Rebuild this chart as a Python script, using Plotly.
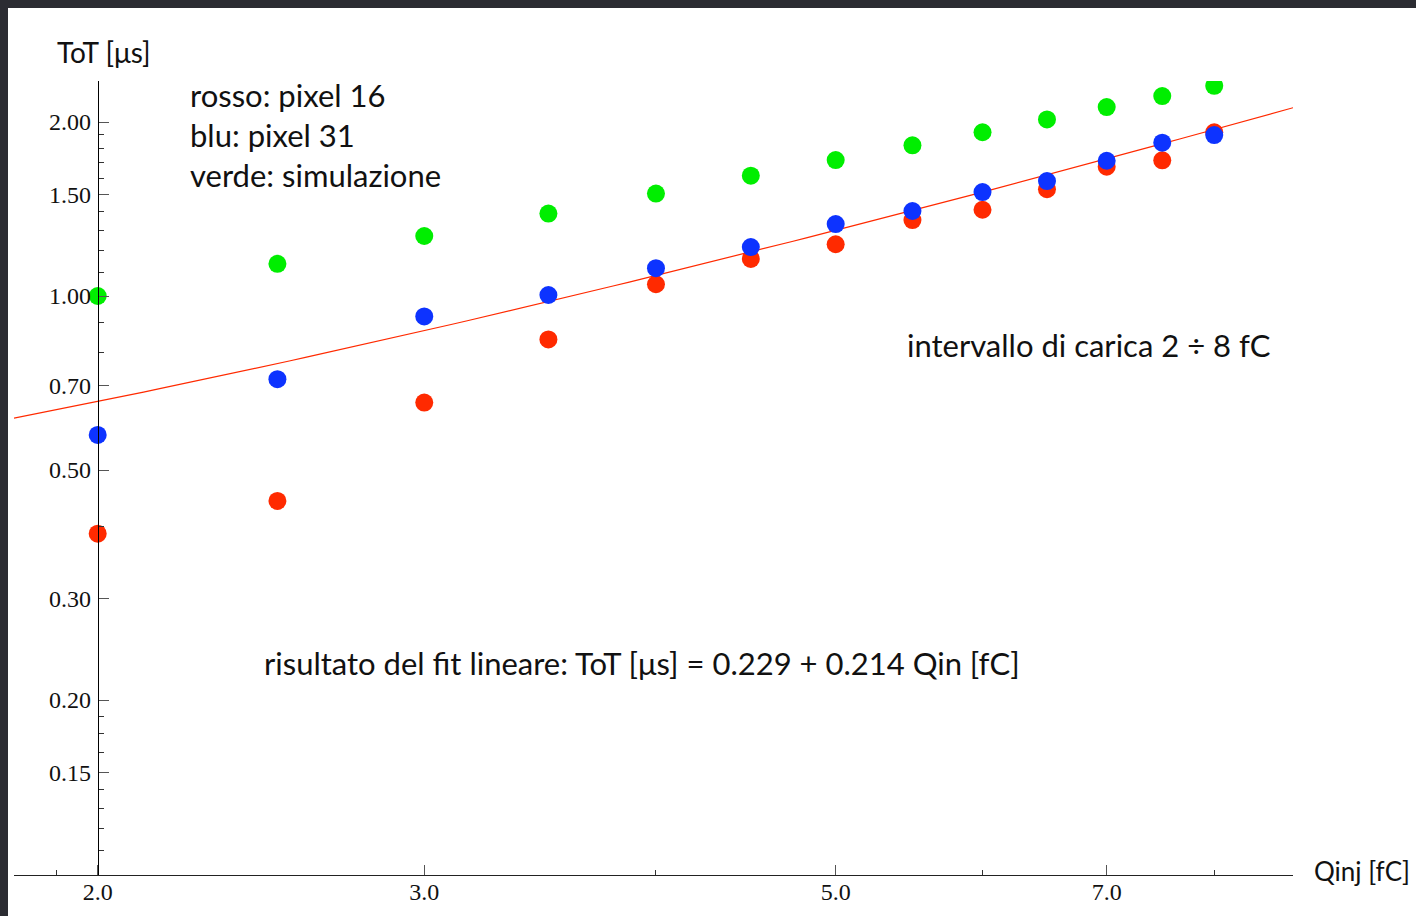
import numpy as np
import plotly.graph_objects as go

# Injected charge [fC]
charge = [2.0, 2.5, 3.0, 3.5, 4.0, 4.5, 5.0, 5.5, 6.0, 6.5, 7.0, 7.5, 8.0]

# Time over threshold [us]
tot_pixel16 = [0.388, 0.442, 0.654, 0.841, 1.048, 1.159, 1.229, 1.353, 1.410, 1.530, 1.674, 1.717, 1.920]  # rosso
tot_pixel31 = [0.575, 0.718, 0.922, 1.004, 1.117, 1.215, 1.332, 1.403, 1.513, 1.581, 1.714, 1.842, 1.899]  # blu
tot_sim = [1.000, 1.137, 1.270, 1.389, 1.504, 1.615, 1.719, 1.823, 1.920, 2.021, 2.123, 2.218, 2.310]       # verde

# Linear fit: ToT = a + b * Q
fit_a, fit_b = 0.229, 0.214

# Axis ticks
x_major = [2.0, 3.0, 5.0, 7.0]
x_major_text = ["2.0", "3.0", "5.0", "7.0"]
x_minor = [1.9, 4.0, 6.0, 8.0]
y_major = [0.15, 0.20, 0.30, 0.50, 0.70, 1.00, 1.50, 2.00]
y_major_text = ["0.15", "0.20", "0.30", "0.50", "0.70", "1.00", "1.50", "2.00"]
y_minor = [0.11, 0.12, 0.13, 0.14, 0.1625, 0.175, 0.1875, 0.4, 0.8, 0.9,
           1.1, 1.2, 1.3, 1.4, 1.6, 1.7, 1.8, 1.9]

x_range = [1.8026, 8.822]
y_range = [0.0996, 2.355]

RED = "#ff2a00"
BLUE = "#0d33ff"
GREEN = "#00ee00"

W, H = 1416, 916
ML, MR, MT, MB = 14, 123, 81, 41
PW, PH = W - ML - MR, H - MT - MB


def px(x):
    return (x - ML) / PW


def py(y):
    return (H - MB - y) / PH


fig = go.Figure()

q_fit = np.geomspace(x_range[0], x_range[1], 80)
fig.add_trace(go.Scatter(x=q_fit, y=fit_a + fit_b * q_fit, mode="lines",
                         line=dict(color=RED, width=1.2), hoverinfo="skip"))

for vals, col in [(tot_pixel16, RED), (tot_pixel31, BLUE), (tot_sim, GREEN)]:
    fig.add_trace(go.Scatter(x=charge, y=vals, mode="markers",
                             marker=dict(color=col, size=18, line=dict(width=0))))

tick_font = dict(family="Liberation Serif", size=24, color="#111")

fig.update_xaxes(
    type="log", range=[np.log10(x_range[0]), np.log10(x_range[1])],
    domain=[0, 1], showgrid=False, zeroline=False, automargin=False,
    showline=True, linecolor="#222", linewidth=1.3,
    tickmode="array", tickvals=x_major, ticktext=x_major_text,
    ticks="inside", ticklen=10, tickcolor="#555", tickwidth=1,
    tickfont=tick_font, ticklabelstandoff=-5,
    minor=dict(tickmode="array", tickvals=x_minor, ticks="inside",
               ticklen=5, tickcolor="#333", tickwidth=1, showgrid=False),
)

fig.update_yaxes(
    type="log", range=[np.log10(y_range[0]), np.log10(y_range[1])],
    anchor="free", position=px(98), domain=[0, 1], automargin=False,
    showgrid=False, zeroline=False,
    showline=True, linecolor="#000", linewidth=1.3,
    tickmode="array", tickvals=y_major, ticktext=y_major_text,
    ticks="inside", ticklen=10, tickcolor="#555", tickwidth=1,
    tickfont=tick_font, ticklabelstandoff=2,
    minor=dict(tickmode="array", tickvals=y_minor, ticks="inside",
               ticklen=5, tickcolor="#333", tickwidth=1, showgrid=False),
)

sans = "Lato"
texts = [
    ("ToT [μs]", 55, 52, 28),
    ("rosso: pixel 16", 188, 95, 31),
    ("blu: pixel 31", 188, 135, 31),
    ("verde: simulazione", 188, 175, 31),
    ("intervallo di carica 2 ÷ 8 fC", 905, 345, 31),
    ("risultato del fit lineare: ToT [μs] = 0.229 + 0.214 Qin [fC]", 262, 663, 31),
    ("Qinj [fC]", 1312, 871, 26),
]
for t, x, y, s in texts:
    fig.add_annotation(text=t, x=px(x), y=py(y), xref="paper", yref="paper",
                       xanchor="left", yanchor="middle", showarrow=False,
                       font=dict(family=sans, size=s, color="#111"))

# dark frame along the top and left edges
frame = "#2b2c32"
fig.add_shape(type="rect", xref="paper", yref="paper", x0=px(0), x1=px(W),
              y0=py(8), y1=py(0), fillcolor=frame, line=dict(width=0), layer="above")
fig.add_shape(type="rect", xref="paper", yref="paper", x0=px(0), x1=px(8),
              y0=py(H), y1=py(0), fillcolor=frame, line=dict(width=0), layer="above")

fig.update_layout(
    width=W, height=H, margin=dict(l=ML, r=MR, t=MT, b=MB, autoexpand=False),
    paper_bgcolor="white", plot_bgcolor="white", showlegend=False,
)

fig.write_html("out.html")
